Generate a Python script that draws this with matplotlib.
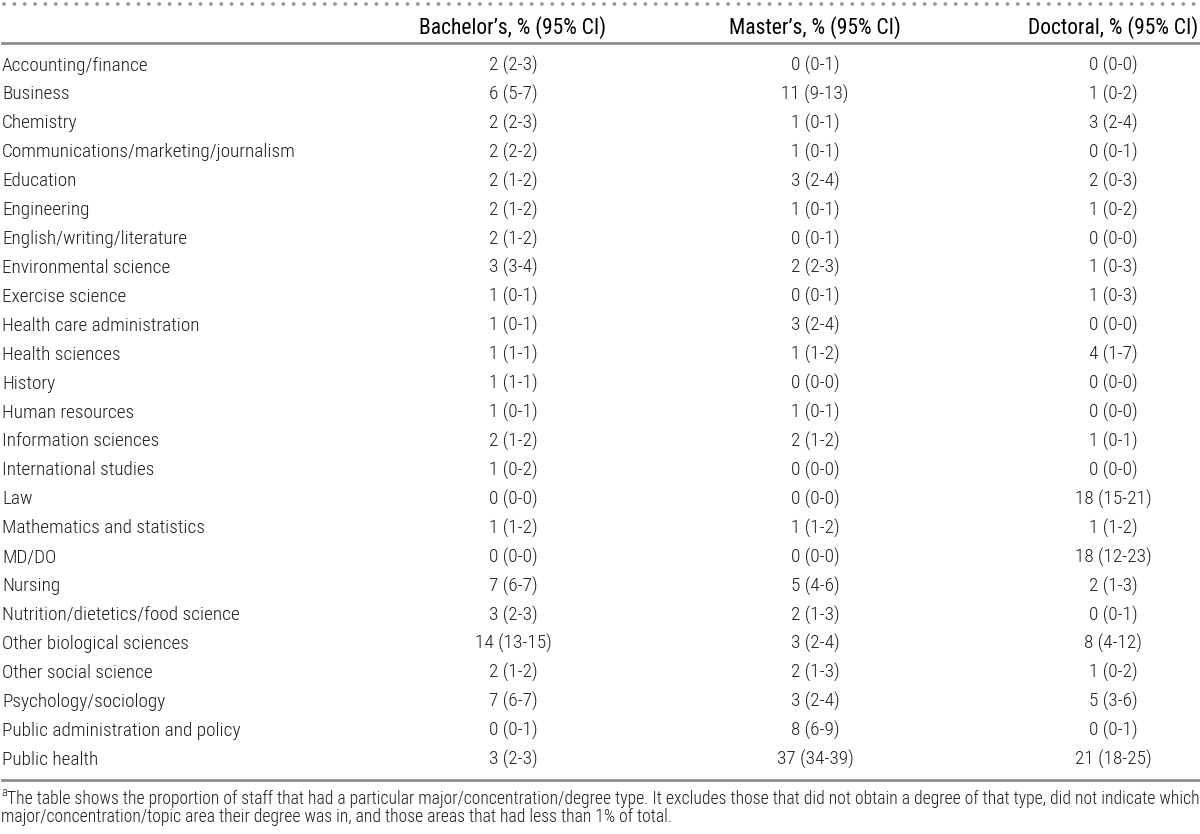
import matplotlib
matplotlib.use('Agg')
import matplotlib.pyplot as plt
from matplotlib import font_manager

# 窄体字体优先
names = {f.name for f in font_manager.fontManager.ttflist}
fam = [n for n in ['Liberation Sans Narrow', 'Roboto Condensed', 'Liberation Sans', 'DejaVu Sans'] if n in names]
plt.rcParams['font.family'] = fam

headers = ["Bachelor\u2019s, % (95% CI)", "Master\u2019s, % (95% CI)", "Doctoral, % (95% CI)"]
majors = [
    "Accounting/finance", "Business", "Chemistry", "Communications/marketing/journalism",
    "Education", "Engineering", "English/writing/literature", "Environmental science",
    "Exercise science", "Health care administration", "Health sciences", "History",
    "Human resources", "Information sciences", "International studies", "Law",
    "Mathematics and statistics", "MD/DO", "Nursing", "Nutrition/dietetics/food science",
    "Other biological sciences", "Other social science", "Psychology/sociology",
    "Public administration and policy", "Public health",
]
bachelors = ["2 (2-3)", "6 (5-7)", "2 (2-3)", "2 (2-2)", "2 (1-2)", "2 (1-2)", "2 (1-2)",
             "3 (3-4)", "1 (0-1)", "1 (0-1)", "1 (1-1)", "1 (1-1)", "1 (0-1)", "2 (1-2)",
             "1 (0-2)", "0 (0-0)", "1 (1-2)", "0 (0-0)", "7 (6-7)", "3 (2-3)", "14 (13-15)",
             "2 (1-2)", "7 (6-7)", "0 (0-1)", "3 (2-3)"]
masters = ["0 (0-1)", "11 (9-13)", "1 (0-1)", "1 (0-1)", "3 (2-4)", "1 (0-1)", "0 (0-1)",
           "2 (2-3)", "0 (0-1)", "3 (2-4)", "1 (1-2)", "0 (0-0)", "1 (0-1)", "2 (1-2)",
           "0 (0-0)", "0 (0-0)", "1 (1-2)", "0 (0-0)", "5 (4-6)", "2 (1-3)", "3 (2-4)",
           "2 (1-3)", "3 (2-4)", "8 (6-9)", "37 (34-39)"]
doctoral = ["0 (0-0)", "1 (0-2)", "3 (2-4)", "0 (0-1)", "2 (0-3)", "1 (0-2)", "0 (0-0)",
            "1 (0-3)", "1 (0-3)", "0 (0-0)", "4 (1-7)", "0 (0-0)", "0 (0-0)", "1 (0-1)",
            "0 (0-0)", "18 (15-21)", "1 (1-2)", "18 (12-23)", "2 (1-3)", "0 (0-1)", "8 (4-12)",
            "1 (0-2)", "5 (3-6)", "0 (0-1)", "21 (18-25)"]
footnote_lines = [
    "The table shows the proportion of staff that had a particular major/concentration/degree type. "
    "It excludes those that did not obtain a degree of that type, did not indicate which",
    "major/concentration/topic area their degree was in, and those areas that had less than 1% of total.",
]

fig = plt.figure(figsize=(12, 8.34), dpi=100)
ax = fig.add_axes([0, 0, 1, 1])
ax.set_xlim(0, 1200)
ax.set_ylim(834, 0)
ax.axis('off')

col_x = [513, 815, 1113]
row0, step = 65.5, 28.92
txt = '#1e1e1e'
fs = 13.9

# 顶部点线
ax.plot([4, 1200], [3.5, 3.5], color='#9a9a9a', lw=2.8, ls=(0, (0.01, 2.65)),
        dash_capstyle='round')
for x, h in zip(col_x, headers):
    ax.text(x, 28, h, ha='center', va='center', fontsize=15.5, color='black')
ax.plot([2, 1200], [43, 43], color='#8c8c8c', lw=2.0)

for i, name in enumerate(majors):
    y = row0 + i * step
    ax.text(2, y, name, ha='left', va='center', fontsize=fs, color=txt, fontweight='light')
    for x, col in zip(col_x, [bachelors, masters, doctoral]):
        ax.text(x, y, col[i], ha='center', va='center', fontsize=fs, color=txt, fontweight='light')

ax.plot([2, 1200], [780, 780], color='#8c8c8c', lw=2.0)

# 脚注
ax.text(1, 793, 'a', ha='left', va='center', fontsize=9, color=txt, fontweight='light')
ax.text(7, 798.5, footnote_lines[0], ha='left', va='center', fontsize=12.7, color=txt,
        fontweight='light')
ax.text(1, 816.5, footnote_lines[1], ha='left', va='center', fontsize=12.7, color=txt,
        fontweight='light')

fig.savefig('out.png', dpi=100)
